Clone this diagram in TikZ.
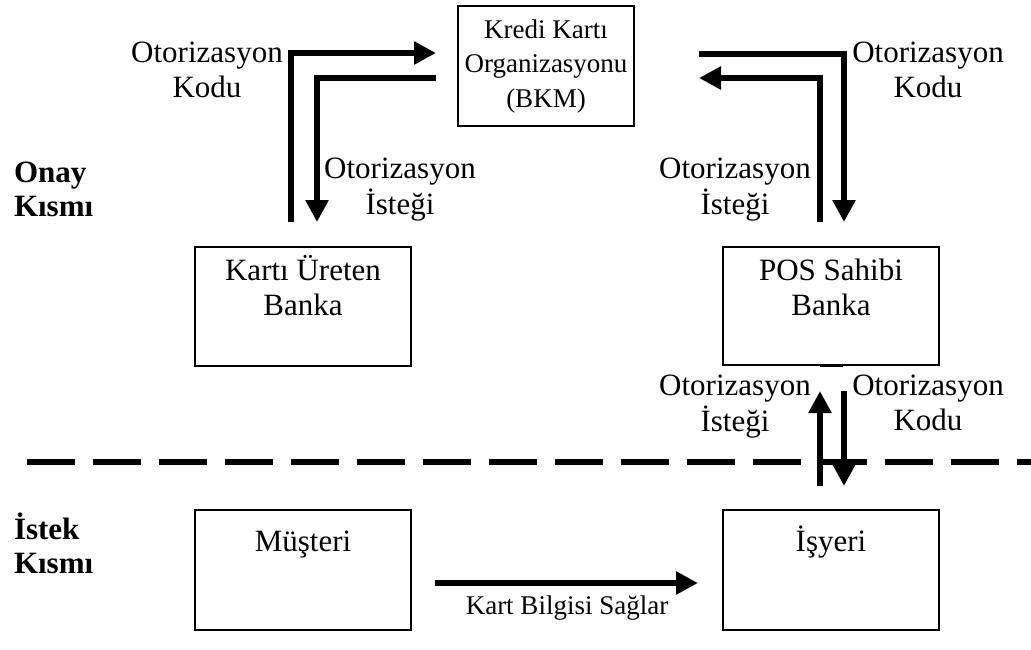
\documentclass[tikz,border=0pt]{standalone}
\usepackage{fontspec}
\setmainfont{Liberation Serif}
\usetikzlibrary{arrows.meta}
\newcommand{\txtstack}[1]{\begin{tabular}[t]{@{}c@{}}#1\end{tabular}}
\newcommand{\txtstackl}[1]{\begin{tabular}[t]{@{}l@{}}#1\end{tabular}}
\begin{document}
\begin{tikzpicture}[x=1pt,y=-1pt,
  every node/.style={inner sep=0pt,outer sep=0pt},
  box/.style={draw,line width=1.4pt,anchor=north west},
  lbl/.style={anchor=base,font=\fontsize{31}{35}\selectfont},
  lblsmall/.style={anchor=base,font=\fontsize{27}{34.5}\selectfont},
  side/.style={anchor=base west,font=\fontsize{31}{34}\selectfont\bfseries},
  arr/.style={line width=5.5pt,-{Triangle[length=22pt,width=22pt]}},
]
\useasboundingbox (0,0) rectangle (1031,649);

% boxes
\node[box,minimum width=176pt,minimum height=120pt] (kko) at (458,6) {};
\node[box,minimum width=216pt,minimum height=119pt] (kub) at (195,247) {};
\node[box,minimum width=216pt,minimum height=118pt] (pos) at (723,247) {};
\node[box,minimum width=216pt,minimum height=120pt] (mus) at (195,510) {};
\node[box,minimum width=216pt,minimum height=120pt] (isy) at (723,510) {};

% box texts
\node[lblsmall] (kkot) at (kko.north |- 0,38) {\txtstack{Kredi Kartı\\Organizasyonu\\(BKM)}};
\node[lbl] (kubt) at (kub.north |- 0,280) {\txtstack{Kartı Üreten\\Banka}};
\node[lbl] (post) at (pos.north |- 0,280) {\txtstack{POS Sahibi\\Banka}};
\node[lbl] (must) at (mus.north |- 0,551) {Müşteri};
\node[lbl] (isyt) at (isy.north |- 0,551) {İşyeri};

% side titles
\node[side] (onay) at (14,182) {\txtstackl{Onay\\Kısmı}};
\node[side] (istek) at (14,539) {\txtstackl{İstek\\Kısmı}};

% dividing line
\coordinate (dl) at (27,462);
\coordinate (dr) at (1031,462);
\draw[line width=6pt,dash pattern=on 48pt off 18pt] (dl) -- (dr);

% small mark under the POS box
\coordinate (m1) at (820,366);
\coordinate (m2) at (843,366);
\draw[line width=1.4pt] (m1) -- (m2);

% connector end points
\coordinate (a1s) at (291,222);  \coordinate (a1e) at (436,53);
\coordinate (a2s) at (436,78);   \coordinate (a2e) at (317,222);
\coordinate (a3s) at (699,54);   \coordinate (a3e) at (844,222);
\coordinate (a4s) at (820,222);  \coordinate (a4e) at (699,78);
\coordinate (a5s) at (820,486);  \coordinate (a5e) at (820,391);
\coordinate (a6s) at (844,391);  \coordinate (a6e) at (844,486);
\coordinate (a7s) at (435,583);  \coordinate (a7e) at (698,583);

% connectors
\draw[arr] (a1s) |- (a1e);
\draw[arr] (a2s) -| (a2e);
\draw[arr] (a3s) -| (a3e);
\draw[arr] (a4s) |- (a4e);
\draw[arr] (a5s) -- (a5e);
\draw[arr] (a6s) -- (a6e);
\draw[arr] (a7s) -- (a7e);

% connector labels
\node[lbl] (l1) at (207,62) {\txtstack{Otorizasyon\\Kodu}};
\node[lbl] (l2) at (400,178) {\txtstack{Otorizasyon\\İsteği}};
\node[lbl] (l3) at (928,62) {\txtstack{Otorizasyon\\Kodu}};
\node[lbl] (l4) at (735,178) {\txtstack{Otorizasyon\\İsteği}};
\node[lbl] (l5) at (735,395) {\txtstack{Otorizasyon\\İsteği}};
\node[lbl] (l6) at (928,395) {\txtstack{Otorizasyon\\Kodu}};
\node[lblsmall] (l7) at (567,614) {Kart Bilgisi Sağlar};
\end{tikzpicture}
\end{document}
